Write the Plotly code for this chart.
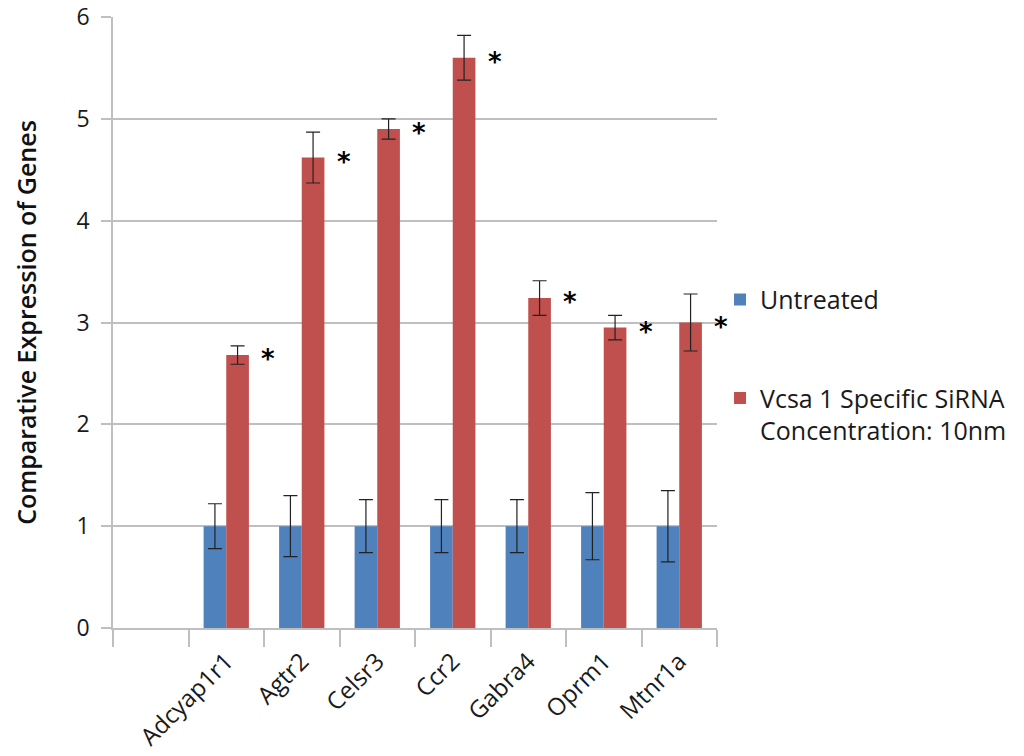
import plotly.graph_objects as go

# Gene expression data (fold change relative to untreated)
genes = ["Adcyap1r1", "Agtr2", "Celsr3", "Ccr2", "Gabra4", "Oprm1", "Mtnr1a"]
categories = [" "] + genes  # leading empty slot on the category axis

untreated = [1, 1, 1, 1, 1, 1, 1]
untreated_err = [0.22, 0.30, 0.26, 0.26, 0.26, 0.33, 0.35]

sirna = [2.68, 4.62, 4.90, 5.60, 3.24, 2.95, 3.00]
sirna_err = [0.09, 0.25, 0.10, 0.22, 0.17, 0.12, 0.28]

significance = ["*", "*", "*", "*", "*", "*", "*"]

y_ticks = [0, 1, 2, 3, 4, 5, 6]

FONT = "Open Sans"
BLUE = "#4f81bd"
RED = "#c0504d"
GRID = "#bfbfbf"
TEXT = "#1a1a1a"

fig = go.Figure()

fig.add_trace(go.Bar(
    x=genes, y=untreated, name="Untreated",
    marker=dict(color=BLUE, line=dict(width=0)),
    error_y=dict(type="data", array=untreated_err, color="#222222",
                 thickness=1.2, width=7),
    legendgroup="a",
))
fig.add_trace(go.Bar(
    x=genes, y=sirna, name="Vcsa 1 Specific SiRNA<br>Concentration: 10nm",
    marker=dict(color=RED, line=dict(width=0)),
    error_y=dict(type="data", array=sirna_err, color="#222222",
                 thickness=1.2, width=7),
    legendgroup="b",
))

# Significance markers beside each treated bar
for g, v, s in zip(genes, sirna, significance):
    fig.add_annotation(x=g, y=v, text=s, showarrow=False, xref="x", yref="y",
                       xshift=42, yshift=-4,
                       font=dict(family="DejaVu Sans", size=26, color="#000000",
                                 weight="bold"))

fig.update_layout(
    width=1024, height=756,
    margin=dict(l=113, r=307, t=17, b=128),
    paper_bgcolor="white", plot_bgcolor="white",
    barmode="group", bargap=0.4, bargroupgap=0,
    font=dict(family=FONT, size=20, color=TEXT),
    legend=dict(x=1.005, y=0.575, xanchor="left", yanchor="top",
                font=dict(family=FONT, size=25, color=TEXT),
                tracegroupgap=63, valign="top", itemwidth=30,
                bgcolor="rgba(0,0,0,0)"),
    showlegend=True,
)

fig.update_xaxes(
    type="category", categoryorder="array", categoryarray=categories,
    range=[-0.5, len(categories) - 0.5], automargin=False,
    tickson="boundaries", ticks="outside", ticklen=17, tickcolor=GRID,
    tickwidth=1.5, showline=True, linecolor=GRID, linewidth=1.5,
    showgrid=False, tickangle=-45, ticklabelstandoff=8,
    tickfont=dict(family=FONT, size=24, color=TEXT),
)

fig.update_yaxes(
    range=[0, 6], tickvals=y_ticks, ticks="outside", ticklen=10,
    automargin=False,
    tickcolor=GRID, tickwidth=1.5, showline=True, linecolor=GRID, linewidth=1.5,
    showgrid=True, gridcolor=GRID, gridwidth=1.5, zeroline=False,
    ticklabelstandoff=7,
    tickfont=dict(family=FONT, size=23, color=TEXT),
    title=dict(text="Comparative Expression of Genes", standoff=33,
               font=dict(family=FONT, size=25, color="#111111", weight=600)),
)

fig.write_html("out.html")
